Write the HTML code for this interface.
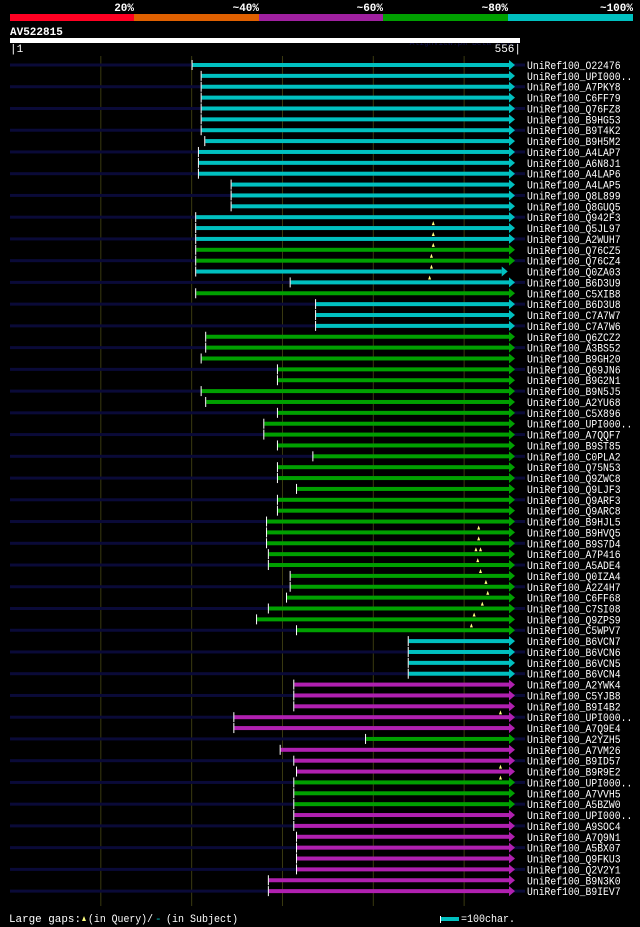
<!DOCTYPE html>
<html><head><meta charset="utf-8"><style>
html,body{margin:0;padding:0;background:#000;}
svg{display:block;}
text{font-family:"Liberation Mono",monospace;}
</style></head><body>
<svg id="c" width="640" height="927" viewBox="0 0 640 927">
<g>
<rect x="10" y="14" width="124" height="7" fill="#ff0022"/>
<rect x="134" y="14" width="125" height="7" fill="#e06000"/>
<rect x="259" y="14" width="124" height="7" fill="#a020a0"/>
<rect x="383" y="14" width="125" height="7" fill="#00a000"/>
<rect x="508" y="14" width="125" height="7" fill="#00c0c0"/>
<text x="134" y="11" fill="#fff" font-size="11" font-weight="bold" text-anchor="end">20%</text>
<text x="259" y="11" fill="#fff" font-size="11" font-weight="bold" text-anchor="end">~40%</text>
<text x="383" y="11" fill="#fff" font-size="11" font-weight="bold" text-anchor="end">~60%</text>
<text x="508" y="11" fill="#fff" font-size="11" font-weight="bold" text-anchor="end">~80%</text>
<text x="633" y="11" fill="#fff" font-size="11" font-weight="bold" text-anchor="end">~100%</text>
</g>
<text x="10" y="35" fill="#fff" font-size="11" font-weight="bold">AV522815</text>
<text x="520" y="45" fill="#10104a" font-size="8" text-anchor="end">AlignView.pm Beta rel.7</text>
<rect x="10" y="38" width="510" height="5" fill="#fff"/>
<text x="10" y="52" fill="#fff" font-size="11">|1</text>
<text x="521" y="52" fill="#fff" font-size="11" text-anchor="end">556|</text>
<g id="grid"></g>
<g id="rows"></g>
<g>
<text x="9" y="922" fill="#fff" font-size="11" textLength="72" lengthAdjust="spacingAndGlyphs">Large gaps:</text>
<path d="M82 921 l2 -5 l2 5z" fill="#ffff80"/>
<text x="88" y="922" fill="#fff" font-size="11" textLength="65" lengthAdjust="spacingAndGlyphs">(in Query)/</text>
<text x="155" y="922" fill="#00c0c0" font-size="11">-</text>
<text x="166" y="922" fill="#fff" font-size="11" textLength="72" lengthAdjust="spacingAndGlyphs">(in Subject)</text>
<rect x="440" y="916" width="1" height="7" fill="#fff"/>
<rect x="441" y="917" width="18" height="4" fill="#00c0c0"/>
<text x="461" y="922" fill="#fff" font-size="11" textLength="54" lengthAdjust="spacingAndGlyphs">=100char.</text>
</g>
</svg>
<script>
const qLen = 556;
const labels = ["O22476","UPI000..","A7PKY8","C6FF79","Q76FZ8","B9HG53","B9T4K2","B9H5M2","A4LAP7","A6N8J1","A4LAP6","A4LAP5","Q8L899","Q8GUQ5","Q942F3","Q5JL97","A2WUH7","Q76CZ5","Q76CZ4","Q0ZA03","B6D3U9","C5XIB8","B6D3U8","C7A7W7","C7A7W6","Q6ZCZ2","A3BS52","B9GH20","Q69JN6","B9G2N1","B9N5J5","A2YU68","C5X896","UPI000..","A7QQF7","B9ST85","C0PLA2","Q75N53","Q9ZWC8","Q9LJF3","Q9ARF3","Q9ARC8","B9HJL5","B9HVQ5","B9S7D4","A7P416","A5ADE4","Q0IZA4","A2Z4H7","C6FF68","C7SI08","Q9ZPS9","C5WPV7","B6VCN7","B6VCN6","B6VCN5","B6VCN4","A2YWK4","C5YJB8","B9I4B2","UPI000..","A7Q9E4","A2YZH5","A7VM26","B9ID57","B9R9E2","UPI000..","A7VVH5","A5BZW0","UPI000..","A9SOC4","A7Q9N1","A5BX07","Q9FKU3","Q2V2Y1","B9N3K0","B9IEV7"];
const starts = [201,211,211,211,211,211,211,215,208,208,208,244,244,244,205,205,205,205,205,205,309,205,337,337,337,216,216,211,295,295,211,216,295,280,280,295,334,295,295,316,295,295,283,283,283,285,285,309,309,305,285,272,316,439,439,439,439,313,313,313,247,247,392,298,313,316,313,313,313,313,313,316,316,316,316,285,285];
const ends = [556,556,556,556,556,556,556,556,556,556,556,556,556,556,556,556,556,556,556,548,556,556,556,556,556,556,556,556,556,556,556,556,556,556,556,556,556,556,556,556,556,556,556,556,556,556,556,556,556,556,556,556,556,556,556,556,556,556,556,556,556,556,556,556,556,556,556,556,556,556,556,556,556,556,556,556,556];
const classes = ["c","c","c","c","c","c","c","c","c","c","c","c","c","c","c","c","c","g","g","c","c","g","c","c","c","g","g","g","g","g","g","g","g","g","g","g","g","g","g","g","g","g","g","g","g","g","g","g","g","g","g","g","g","c","c","c","c","m","m","m","m","m","g","m","m","m","g","g","g","m","m","m","m","m","m","m","m"];
const gapRows = [14,15,16,17,18,19,42,43,44,44,45,46,47,48,49,50,51,59,64,65];
const gapPos = [466,466,466,464,464,462,516,516,513,518,515,518,524,526,520,511,508,540,540,540];
const gridTicks = [100,200,300,400,500];
const colors = {c:"#00c0c0", g:"#00a000", m:"#b020b0"};
const X0 = 10, X1 = 515, Y0 = 65, DY = 10.87;
const NS = "http://www.w3.org/2000/svg";
function xs(r){ return X0 + (r/qLen)*(X1-X0); }
function ys(i){ return Y0 + i*DY; }
function mk(t,a,p){ const e=document.createElementNS(NS,t); for(const k in a) e.setAttribute(k,a[k]); p.appendChild(e); return e; }
const grid = document.getElementById('grid');
gridTicks.forEach(t=>{
  const l = mk('line',{x1:xs(t),x2:xs(t),y1:56,y2:906,stroke:"#3a3a10","stroke-width":1},grid);
  
  
});
const rows = document.getElementById('rows');
labels.forEach((lab,i)=>{
  const y = ys(i);
  const g = mk('g',{},rows);
  
  
  if(i%2===0){ mk('rect',{x:X0,y:y-1.5,width:525-X0,height:3,fill:"#0a0a38"},g); }
  const col = colors[classes[i]];
  const sx = xs(starts[i]), ex = xs(ends[i]);
  mk('rect',{x:sx,y:y-2,width:ex-6-sx,height:4,fill:col},g);
  mk('path',{d:`M${ex-6} ${y-5} L${ex} ${y} L${ex-6} ${y+5}Z`,fill:col},g);
  mk('rect',{x:sx-1,y:y-5,width:1,height:10,fill:"#fff"},g);
  const s = "UniRef100_"+lab;
  const t = mk('text',{x:527,y:y+4,fill:"#fff","font-size":"11",textLength:(s.length*5.85).toFixed(1),lengthAdjust:"spacingAndGlyphs"},g);
  t.textContent = s;
});
gapRows.forEach((r,k)=>{
  const x = xs(gapPos[k]), y = ys(r)+4;
  const p = mk('path',{d:`M${x-1.5} ${y+4} L${x} ${y} L${x+1.5} ${y+4}Z`,fill:"#ffff80"},rows);
  
  
});
</script>
</body></html>
